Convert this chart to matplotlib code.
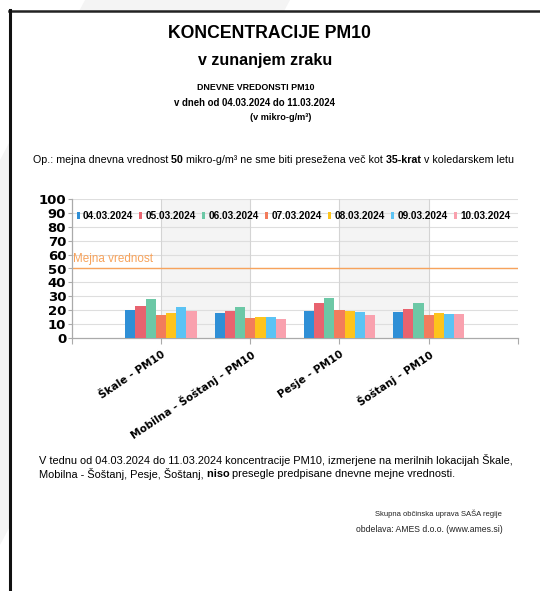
import numpy as np
import matplotlib
matplotlib.use("Agg")
import matplotlib.pyplot as plt
from matplotlib.patches import Rectangle, Polygon
from matplotlib.lines import Line2D

W, H = 540, 591

# podatki (mikro-g/m3)
lokacije = ["Škale - PM10", "Mobilna - Šoštanj - PM10", "Pesje - PM10", "Šoštanj - PM10"]
datumi = ["04.03.2024", "05.03.2024", "06.03.2024", "07.03.2024",
          "08.03.2024", "09.03.2024", "10.03.2024"]
skale = [20.0, 23.1, 27.7, 16.1, 17.8, 21.9, 19.0]
mobilna = [17.8, 19.0, 21.9, 14.5, 14.9, 14.9, 13.7]
pesje = [19.5, 25.3, 28.4, 20.2, 19.3, 18.6, 16.1]
sostanj = [18.6, 21.0, 24.8, 16.1, 17.8, 17.3, 16.9]
mejna = 50
barve = ["#2f8fd6", "#e8636f", "#6cc8a6", "#f27c5c", "#fdc41c", "#5bc3f4", "#f9a1ae"]

vrednosti = np.array([skale, mobilna, pesje, sostanj])

plt.rcParams['font.family'] = ['Liberation Sans', 'DejaVu Sans']

fig = plt.figure(figsize=(W / 100, H / 100), dpi=100)
fig.patch.set_facecolor("white")

def fx(x):
    return x / W

def fy(y):
    return 1 - y / H

# vodni znak (bled) in okvir strani
fig.patches.append(Polygon([(fx(85), fy(0)), (fx(290), fy(0)), (fx(0), fy(545)), (fx(0), fy(160))],
                           closed=True, transform=fig.transFigure, facecolor="#f4f4f4",
                           edgecolor="none", zorder=0))
fig.patches.append(Rectangle((fx(11), 0), fx(529), fy(11.5), transform=fig.transFigure,
                             facecolor="white", edgecolor="none", zorder=0.5))
fig.add_artist(Line2D([fx(9), fx(540)], [fy(10.5), fy(10.5)], color="#222222", lw=1.8,
                      transform=fig.transFigure))
fig.add_artist(Line2D([fx(10), fx(10)], [fy(10), fy(591)], color="#111111", lw=2.2,
                      transform=fig.transFigure))

# naslovi
fig.text(fx(269), fy(33), "KONCENTRACIJE PM10", fontsize=12.7, fontweight="bold",
         ha="center", va="center")
fig.text(fx(265), fy(61), "v zunanjem zraku", fontsize=11.5, fontweight="bold",
         ha="center", va="center")
fig.text(fx(256), fy(88), "DNEVNE VREDONSTI PM10", fontsize=6.4, fontweight="bold",
         ha="center", va="center")
fig.text(fx(254), fy(103), "v dneh od 04.03.2024 do 11.03.2024", fontsize=6.9,
         fontweight="bold", ha="center", va="center")
fig.text(fx(281), fy(117), "(v mikro-g/m³)", fontsize=6.6, fontweight="bold",
         ha="center", va="center")

renderer = fig.canvas.get_renderer()

def sirina(s, bold, size):
    w = "bold" if bold else "normal"
    t1 = fig.text(0, 0, "|" + s + "|", fontsize=size, fontweight=w)
    t2 = fig.text(0, 0, "||", fontsize=size, fontweight=w)
    d = t1.get_window_extent(renderer).width - t2.get_window_extent(renderer).width
    t1.remove()
    t2.remove()
    return d

def vrstica(x, y, deli, size):
    for s, bold in deli:
        fig.text(fx(x), fy(y), s, fontsize=size, fontweight="bold" if bold else "normal",
                 ha="left", va="center")
        x += sirina(s, bold, size)

vrstica(33, 160, [("Op.: mejna dnevna vrednost ", False), ("50 ", True),
                  ("mikro-g/m³ ne sme biti presežena več kot ", False), ("35-krat ", True),
                  ("v koledarskem letu", False)], 7.7)

# graf
ax = fig.add_axes([fx(71.7), fy(337.7), (518 - 71.7) / W, (337.7 - 199.3) / H])
ax.set_zorder(3)
ax.set_facecolor("white")
ax.set_xlim(0, 5)
ax.set_ylim(0, 100)
for a, b in [(1, 2), (3, 4)]:
    ax.axvspan(a, b, color="#f4f4f4", zorder=0, lw=0)
for v in range(10, 101, 10):
    ax.axhline(v, color="#dedede", lw=0.8, zorder=1)
for v in range(1, 5):
    ax.axvline(v, color="#d4d4d4", lw=0.8, zorder=1)

n = len(datumi)
sirina_st = 0.8 / n
x = np.arange(1, len(lokacije) + 1)
for i in range(n):
    ax.bar(x - 0.4 + sirina_st * (i + 0.5), vrednosti[:, i], width=sirina_st,
           color=barve[i], zorder=3, lw=0)

ax.axhline(mejna, color="#f7a35c", lw=1.0, zorder=2)
ax.text(0.02, mejna + 2.3, "Mejna vrednost", color="#f7a35c", fontsize=8.4,
        ha="left", va="bottom", zorder=4)

for s in ["top", "right"]:
    ax.spines[s].set_visible(False)
for s in ["left", "bottom"]:
    ax.spines[s].set_color("#aaaaaa")
    ax.spines[s].set_linewidth(0.9)

ax.set_yticks(range(0, 101, 10))
ax.set_yticklabels([str(v) for v in range(0, 101, 10)], fontsize=9.5, fontweight="bold",
                   family="DejaVu Sans")
ax.set_xticks([0, 1, 2, 3, 4, 5])
ax.set_xticklabels([""] + lokacije + [""], fontsize=7.6, fontweight="bold",
                   family="DejaVu Sans", rotation=34, ha="right", rotation_mode="anchor")
ax.tick_params(axis="both", colors="#aaaaaa", width=0.8, labelcolor="black")
ax.tick_params(axis="x", length=4, pad=4)
ax.tick_params(axis="y", length=3, pad=1)

rocice = [Rectangle((0, 0), 1, 1, facecolor=c, edgecolor="none") for c in barve]
leg = ax.legend(rocice, datumi, ncol=n, loc="center", bbox_to_anchor=(0.497, 0.879),
                frameon=False, fontsize=7.2, handlelength=0.3, handleheight=0.8,
                handletextpad=0.35, columnspacing=0.6, borderaxespad=0, borderpad=0)
for t in leg.get_texts():
    t.set_fontweight("bold")
leg.set_zorder(5)

# besedilo pod grafom
vrstica(39, 460, [("V tednu od 04.03.2024 do 11.03.2024 koncentracije PM10, izmerjene na "
                   "merilnih lokacijah Škale,", False)], 7.9)
vrstica(39, 474, [("Mobilna - Šoštanj, Pesje, Šoštanj, ", False), ("niso ", True),
                  ("presegle predpisane dnevne mejne vrednosti.", False)], 7.9)

fig.text(fx(502), fy(514), "Skupna občinska uprava SAŠA regije", fontsize=5.5,
         ha="right", va="center", color="#222222")
fig.text(fx(503), fy(530), "obdelava: AMES d.o.o. (www.ames.si)", fontsize=6.2,
         ha="right", va="center", color="#222222")

fig.savefig("out.png", dpi=100, facecolor="white")
